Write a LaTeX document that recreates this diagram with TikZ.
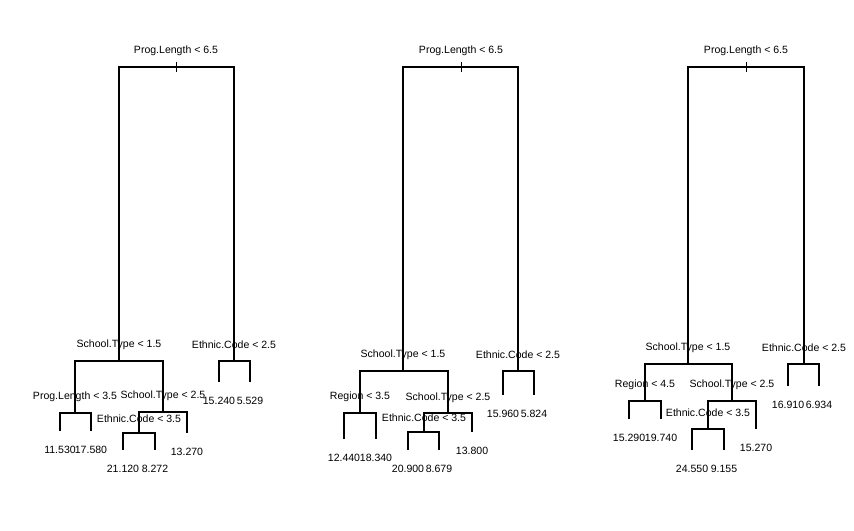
\documentclass[tikz,border=0pt]{standalone}
\usepackage{fontspec}
\setmainfont{Liberation Sans}
\tikzset{
  split/.style={font=\fontsize{7.9}{9}\selectfont, yshift=12.5pt},
  leaf/.style={font=\fontsize{7.9}{9}\selectfont, yshift=-14.5pt},
  branch/.style={line width=1pt},
}
\begin{document}
\begin{tikzpicture}[x=0.75pt,y=-0.75pt]
    \useasboundingbox (0,0) rectangle (854,531);
    % first tree
    \coordinate (ra) at (176,67);
    \coordinate (al) at (119,361);   \coordinate (ar) at (234,361);
    \coordinate (all) at (75,413);   \coordinate (alr) at (163,412);
    \coordinate (alrl) at (139,433);
    \coordinate (a1) at (60,431);    \coordinate (a2) at (91,431);
    \coordinate (a3) at (123,450);   \coordinate (a4) at (155,450);
    \coordinate (a5) at (187,433);
    \coordinate (a6) at (219,382);   \coordinate (a7) at (250,382);
    \draw[branch] (al) |- (ra) -| (ar);
    \draw[branch] (all) |- (al) -| (alr);
    \draw[branch] (a1) |- (all) -| (a2);
    \draw[branch] (alrl) |- (alr) -| (a5);
    \draw[branch] (a3) |- (alrl) -| (a4);
    \draw[branch] (a6) |- (ar) -| (a7);
    \draw[thin] ([yshift=4pt]ra) -- ([yshift=-4pt]ra);
    \node[split] (tra) at (ra) {Prog.Length < 6.5};
    \node[split] (tal) at (al) {School.Type < 1.5};
    \node[split] (tar) at (ar) {Ethnic.Code < 2.5};
    \node[split] (tall) at (all) {Prog.Length < 3.5};
    \node[split] (talr) at (alr) {School.Type < 2.5};
    \node[split,yshift=-1.5pt] (talrl) at (alrl) {Ethnic.Code < 3.5};
    \node[leaf] (ta1) at (a1) {11.530};
    \node[leaf] (ta2) at (a2) {17.580};
    \node[leaf] (ta3) at (a3) {21.120};
    \node[leaf] (ta4) at (a4) {8.272};
    \node[leaf] (ta5) at (a5) {13.270};
    \node[leaf] (ta6) at (a6) {15.240};
    \node[leaf] (ta7) at (a7) {5.529};
    % second tree
    \coordinate (rb) at (461,67);
    \coordinate (bl) at (403,371);   \coordinate (br) at (518,371);
    \coordinate (bll) at (360,413);  \coordinate (blr) at (448,413);
    \coordinate (blrl) at (424,432);
    \coordinate (b1) at (344,439);   \coordinate (b2) at (376,439);
    \coordinate (b3) at (408,450);   \coordinate (b4) at (439,450);
    \coordinate (b5) at (472,432);
    \coordinate (b6) at (503,395);   \coordinate (b7) at (534,395);
    \draw[branch] (bl) |- (rb) -| (br);
    \draw[branch] (bll) |- (bl) -| (blr);
    \draw[branch] (b1) |- (bll) -| (b2);
    \draw[branch] (blrl) |- (blr) -| (b5);
    \draw[branch] (b3) |- (blrl) -| (b4);
    \draw[branch] (b6) |- (br) -| (b7);
    \draw[thin] ([yshift=4pt]rb) -- ([yshift=-4pt]rb);
    \node[split] (trb) at (rb) {Prog.Length < 6.5};
    \node[split] (tbl) at (bl) {School.Type < 1.5};
    \node[split] (tbr) at (br) {Ethnic.Code < 2.5};
    \node[split] (tbll) at (bll) {Region < 3.5};
    \node[split,yshift=-1pt] (tblr) at (blr) {School.Type < 2.5};
    \node[split,yshift=-1.5pt] (tblrl) at (blrl) {Ethnic.Code < 3.5};
    \node[leaf] (tb1) at (b1) {12.440};
    \node[leaf] (tb2) at (b2) {18.340};
    \node[leaf] (tb3) at (b3) {20.900};
    \node[leaf] (tb4) at (b4) {8.679};
    \node[leaf] (tb5) at (b5) {13.800};
    \node[leaf] (tb6) at (b6) {15.960};
    \node[leaf] (tb7) at (b7) {5.824};
    % third tree
    \coordinate (rc) at (746,67);
    \coordinate (cl) at (688,364);   \coordinate (cr) at (804,364);
    \coordinate (cll) at (645,401);  \coordinate (clr) at (732,401);
    \coordinate (clrl) at (708,429);
    \coordinate (c1) at (629,419);   \coordinate (c2) at (661,419);
    \coordinate (c3) at (692,450);   \coordinate (c4) at (724,450);
    \coordinate (c5) at (756,429);
    \coordinate (c6) at (788,386);   \coordinate (c7) at (819,386);
    \draw[branch] (cl) |- (rc) -| (cr);
    \draw[branch] (cll) |- (cl) -| (clr);
    \draw[branch] (c1) |- (cll) -| (c2);
    \draw[branch] (clrl) |- (clr) -| (c5);
    \draw[branch] (c3) |- (clrl) -| (c4);
    \draw[branch] (c6) |- (cr) -| (c7);
    \draw[thin] ([yshift=4pt]rc) -- ([yshift=-4pt]rc);
    \node[split] (trc) at (rc) {Prog.Length < 6.5};
    \node[split] (tcl) at (cl) {School.Type < 1.5};
    \node[split] (tcr) at (cr) {Ethnic.Code < 2.5};
    \node[split] (tcll) at (cll) {Region < 4.5};
    \node[split] (tclr) at (clr) {School.Type < 2.5};
    \node[split] (tclrl) at (clrl) {Ethnic.Code < 3.5};
    \node[leaf] (tc1) at (c1) {15.290};
    \node[leaf] (tc2) at (c2) {19.740};
    \node[leaf] (tc3) at (c3) {24.550};
    \node[leaf] (tc4) at (c4) {9.155};
    \node[leaf] (tc5) at (c5) {15.270};
    \node[leaf] (tc6) at (c6) {16.910};
    \node[leaf] (tc7) at (c7) {6.934};
\end{tikzpicture}
\end{document}
